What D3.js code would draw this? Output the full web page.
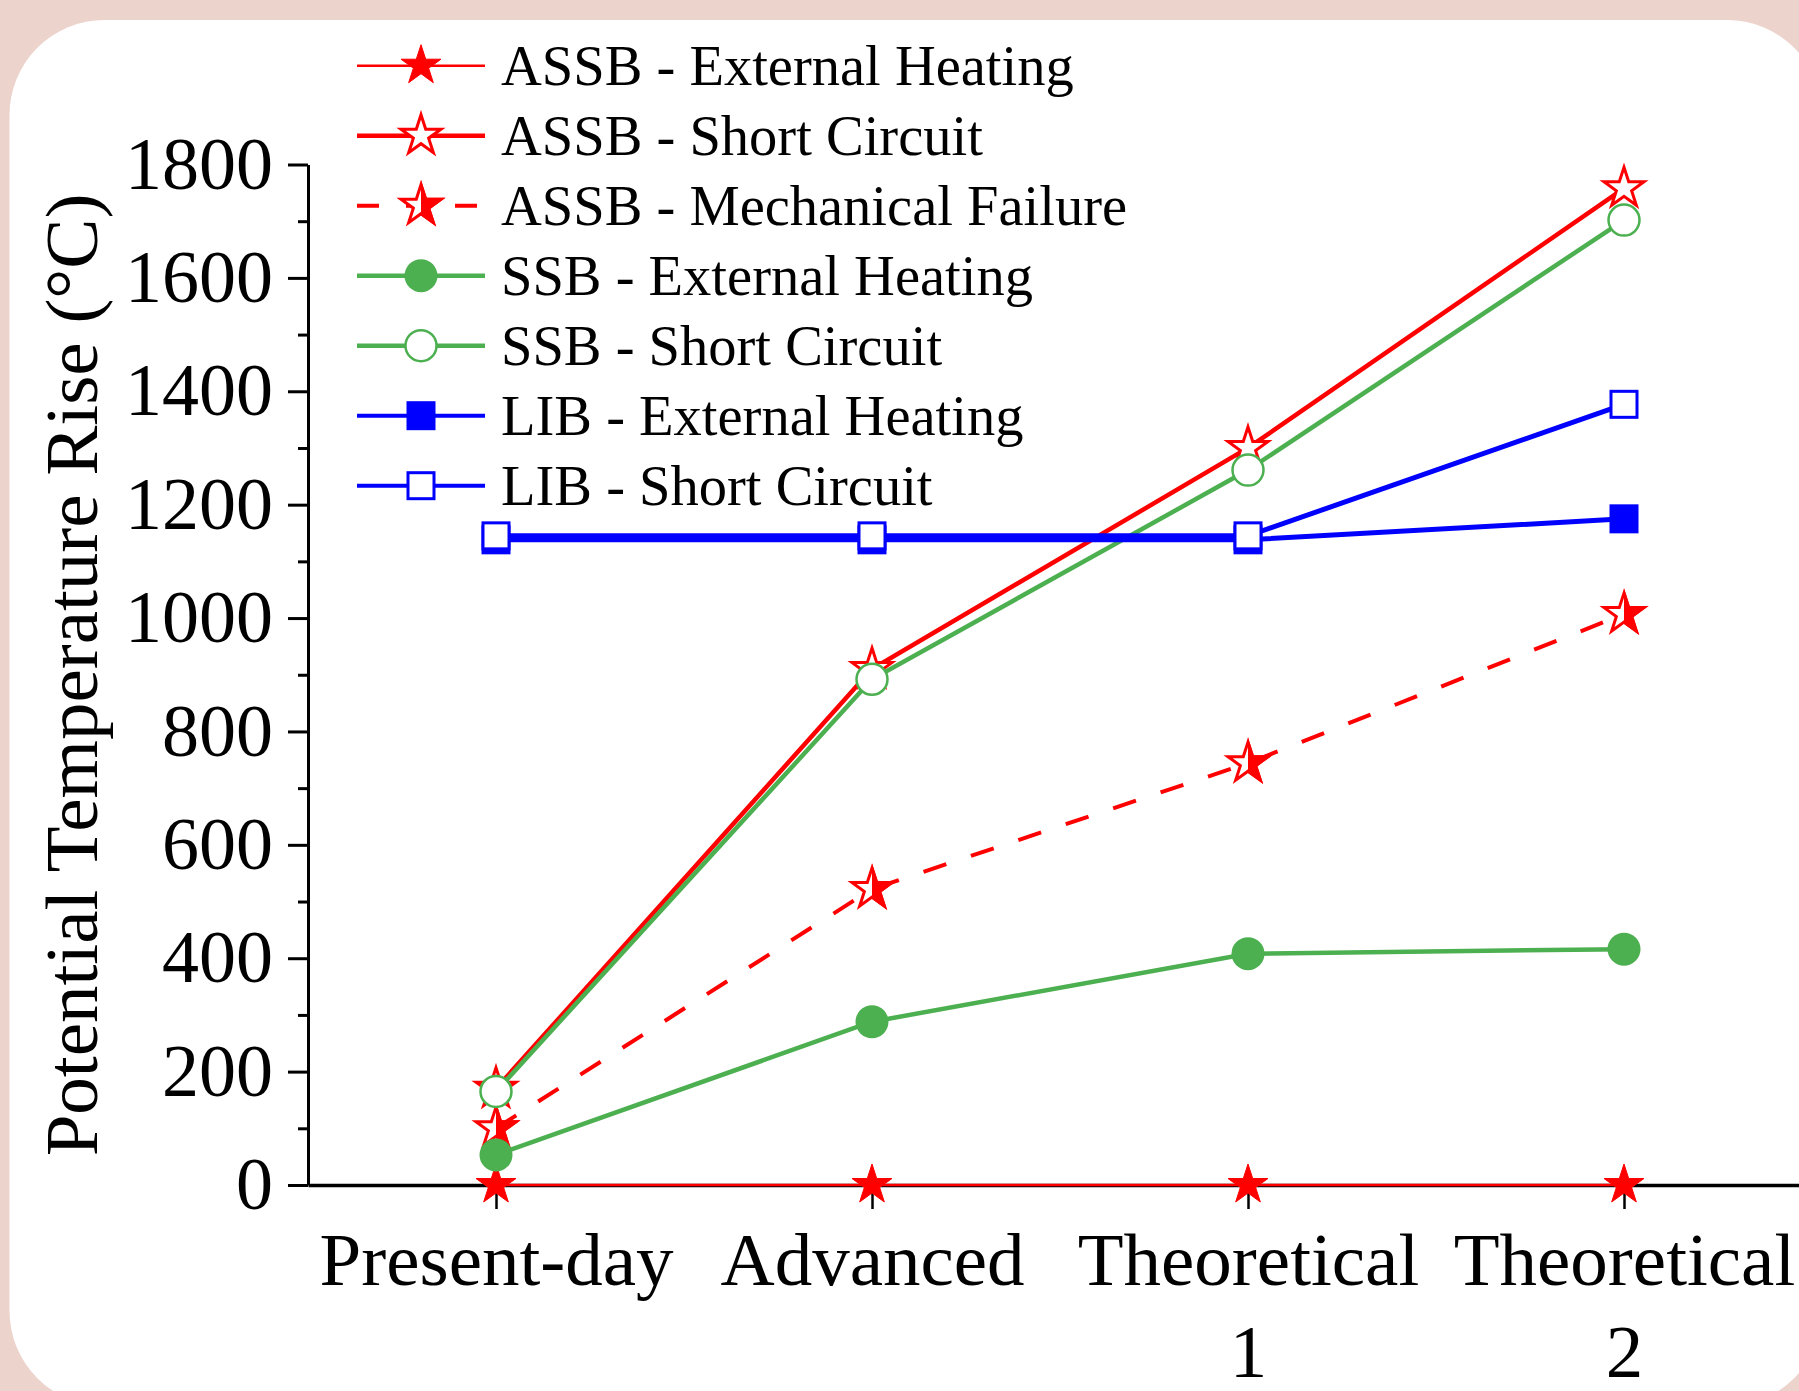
<!DOCTYPE html>
<html>
<head>
<meta charset="utf-8">
<script src="https://cdn.jsdelivr.net/npm/d3@7"></script>
<style>
  html, body { margin: 0; padding: 0; background: #ecd3cc; }
  svg { display: block; }
  text { font-family: "Liberation Serif", "Times New Roman", serif; fill: #000; }
</style>
</head>
<body>
<svg id="chart" width="1799" height="1391"></svg>
<script>
// ---------------- data ----------------
const categories = ["Present-day", "Advanced", "Theoretical 1", "Theoretical 2"];
const tickLabelLines = [["Present-day"], ["Advanced"], ["Theoretical", "1"], ["Theoretical", "2"]];
const yTicks = [0, 200, 400, 600, 800, 1000, 1200, 1400, 1600, 1800];
const yMinorTicks = [100, 300, 500, 700, 900, 1100, 1300, 1500, 1700];

const seriesNames = [
  "ASSB - External Heating",
  "ASSB - Short Circuit",
  "ASSB - Mechanical Failure",
  "SSB - External Heating",
  "SSB - Short Circuit",
  "LIB - External Heating",
  "LIB - Short Circuit"
];
const assbExternalHeating = [0, 0, 0, 0];
const assbShortCircuit = [170, 910, 1300, 1758];
const assbMechanicalFailure = [100, 522, 744, 1007];
const ssbExternalHeating = [53, 288, 408, 416];
const ssbShortCircuit = [165, 892, 1261, 1702];
const libExternalHeating = [1138, 1138, 1138, 1175];
const libShortCircuit = [1145, 1145, 1145, 1377];

const yTitle = "Potential Temperature Rise (°C)";

// ---------------- styles ----------------
const RED = "#ff0000", GREEN = "#4caf50", BLUE = "#0000ff";
const styles = [
  { color: RED,   width: 2.5, dash: null,    marker: "star",   fill: "full" },
  { color: RED,   width: 4.5, dash: null,    marker: "star",   fill: "none" },
  { color: RED,   width: 4,   dash: "24,26", marker: "star",   fill: "half" },
  { color: GREEN, width: 4.5, dash: null,    marker: "circle", fill: "full" },
  { color: GREEN, width: 4.5, dash: null,    marker: "circle", fill: "none" },
  { color: BLUE,  width: 5,   dash: null,    marker: "square", fill: "full" },
  { color: BLUE,  width: 5,   dash: null,    marker: "square", fill: "none" }
];
const seriesValues = [assbExternalHeating, assbShortCircuit, assbMechanicalFailure,
  ssbExternalHeating, ssbShortCircuit, libExternalHeating, libShortCircuit];

const W = 1799, H = 1391;
const svg = d3.select("#chart");

// background card
svg.append("rect").attr("x", 0).attr("y", 0).attr("width", W).attr("height", H).attr("fill", "#ecd3cc");
svg.append("rect").attr("x", 9.5).attr("y", 20).attr("width", 1822 - 9.5).attr("height", 1406 - 20)
  .attr("rx", 95).attr("ry", 95).attr("fill", "#ffffff");

const defs = svg.append("defs");
defs.append("clipPath").attr("id", "rightHalf").attr("clipPathUnits", "userSpaceOnUse")
  .append("rect").attr("x", 0).attr("y", -40).attr("width", 40).attr("height", 80);

// scales
const x = d3.scaleLinear().domain([0.5, 4.5]).range([308, 1812]);
const y = d3.scaleLinear().domain([0, 1800]).range([1185, 164.5]);

// axes
const yAxis = d3.axisLeft(y).tickValues(yTicks).tickSize(20).tickSizeOuter(0).tickPadding(15)
  .tickFormat(d3.format("d"));
const gy = svg.append("g").attr("transform", `translate(${x(0.5)},0)`).call(yAxis);
gy.selectAll("text").style("font-size", "74px").attr("dy", "0.32em");
gy.select(".domain").attr("stroke-width", 3).attr("stroke", "#000");
gy.selectAll(".tick line").attr("stroke-width", 3).attr("stroke", "#000");

const yMinor = d3.axisLeft(y).tickValues(yMinorTicks).tickSize(10).tickSizeOuter(0).tickFormat("");
const gym = svg.append("g").attr("transform", `translate(${x(0.5)},0)`).call(yMinor);
gym.select(".domain").remove();
gym.selectAll(".tick line").attr("stroke-width", 3).attr("stroke", "#000");

const xAxis = d3.axisBottom(x).tickValues([1, 2, 3, 4]).tickSize(24).tickSizeOuter(0).tickFormat("");
const gx = svg.append("g").attr("transform", `translate(0,${y(0)})`).call(xAxis);
gx.select(".domain").attr("stroke-width", 3.5).attr("stroke", "#000");
gx.selectAll(".tick line").attr("stroke-width", 2.5).attr("stroke", "#000");
gx.selectAll(".tick").each(function(d, i) {
  const t = d3.select(this).append("text").attr("text-anchor", "middle").style("font-size", "75px");
  tickLabelLines[i].forEach((line, j) => {
    t.append("tspan").attr("x", 0).attr("y", 100 + j * 92).text(line);
  });
});

// y title
svg.append("text")
  .attr("transform", `translate(97,675) rotate(-90)`)
  .attr("text-anchor", "middle")
  .style("font-size", "75px")
  .text(yTitle);

// marker drawing
const starPath = d3.symbol().type(d3.symbolStar).size(21 * 21 / 0.8908130915292852)();
function drawMarker(g, st) {
  if (st.marker === "star") {
    if (st.fill === "full") {
      g.append("path").attr("d", starPath).attr("fill", st.color).attr("stroke", st.color).attr("stroke-width", 1);
    } else if (st.fill === "none") {
      g.append("path").attr("d", starPath).attr("fill", "#fff").attr("stroke", st.color).attr("stroke-width", 3);
    } else {
      g.append("path").attr("d", starPath).attr("fill", "#fff").attr("stroke", st.color).attr("stroke-width", 3);
      g.append("path").attr("d", starPath).attr("fill", st.color).attr("stroke", st.color).attr("stroke-width", 3)
        .attr("clip-path", "url(#rightHalf)");
    }
  } else if (st.marker === "circle") {
    if (st.fill === "full") {
      g.append("circle").attr("r", 16.5).attr("fill", st.color);
    } else {
      g.append("circle").attr("r", 15.5).attr("fill", "#fff").attr("stroke", st.color).attr("stroke-width", 2.5);
    }
  } else {
    if (st.fill === "full") {
      g.append("rect").attr("x", -14.5).attr("y", -14.5).attr("width", 29).attr("height", 29).attr("fill", st.color);
    } else {
      g.append("rect").attr("x", -13).attr("y", -13).attr("width", 26).attr("height", 26)
        .attr("fill", "#fff").attr("stroke", st.color).attr("stroke-width", 3);
    }
  }
}

// series
const line = d3.line().x((d, i) => x(i + 1)).y(d => y(d));
seriesValues.forEach((vals, si) => {
  const st = styles[si];
  const g = svg.append("g");
  g.append("path").attr("d", line(vals)).attr("fill", "none")
    .attr("stroke", st.color).attr("stroke-width", st.width)
    .attr("stroke-dasharray", st.dash);
  vals.forEach((v, i) => {
    const mg = g.append("g").attr("transform", `translate(${x(i + 1)},${y(v)})`);
    drawMarker(mg, st);
  });
});

// legend
const lg = svg.append("g");
seriesNames.forEach((name, i) => {
  const st = styles[i];
  const cy = 65.7 + i * 70;
  const row = lg.append("g").attr("transform", `translate(0,${cy})`);
  row.append("line").attr("x1", 357).attr("x2", 485).attr("y1", 0).attr("y2", 0)
    .attr("stroke", st.color).attr("stroke-width", st.width === 5 ? 4 : st.width)
    .attr("stroke-dasharray", st.dash ? "22,27" : null);
  const mg = row.append("g").attr("transform", `translate(421,0)`);
  drawMarker(mg, st);
  row.append("text").attr("x", 501).attr("y", 19).style("font-size", "56.5px").text(name);
});
</script>
</body>
</html>
